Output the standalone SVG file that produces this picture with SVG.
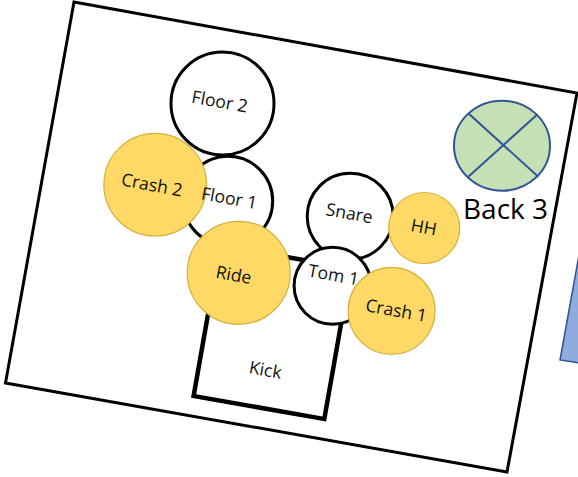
<svg xmlns="http://www.w3.org/2000/svg" width="578" height="477" viewBox="0 0 578 477">
  <style>
    .drum { fill: #ffffff; stroke: #000000; stroke-width: 3; }
    .cym { fill: #FFD966; stroke: #D6AE3A; stroke-width: 1.2; }
    .lbl { font-family: "Open Sans", "Liberation Sans", sans-serif; font-size: 17.6px; fill: #111111; text-anchor: middle; }
  </style>
  <rect width="578" height="477" fill="#ffffff"/>
  <g id="room">
    <polygon points="74,2 577,93 507,472 5.5,383" fill="#ffffff" stroke="#000000" stroke-width="3"/>
  </g>
  <g id="side-shape">
    <polygon points="579,255 560,360 579,363" fill="#8FAADC" stroke="#2F5597" stroke-width="1.5"/>
  </g>
  <g id="floor2">
    <circle class="drum" cx="222.5" cy="103.5" r="51.5"/>
    <text class="lbl" x="219.7" y="107.7" transform="rotate(10.3 219.7 101.7)">Floor 2</text>
  </g>
  <g id="floor1">
    <circle class="drum" cx="228" cy="201" r="44.7"/>
  </g>
  <g id="crash2">
    <circle class="cym" cx="155.2" cy="184.7" r="51.3"/>
    <text class="lbl" x="151.9" y="191" transform="rotate(10.3 151.9 185)">Crash 2</text>
  </g>
  <text class="lbl" x="229.3" y="204.3" transform="rotate(10.3 229.3 198.3)">Floor 1</text>
  <g id="kick">
    <rect x="205.9" y="255.65" width="132.7" height="153" fill="#ffffff" stroke="#000000" stroke-width="4.5" transform="rotate(10 272.25 332.15)"/>
    <text class="lbl" x="265.4" y="376" transform="rotate(10.3 265.4 370)">Kick</text>
  </g>
  <g id="ride">
    <circle class="cym" cx="238.7" cy="272.8" r="51.5"/>
    <text class="lbl" x="233.7" y="281" transform="rotate(10.3 233.7 275)">Ride</text>
  </g>
  <g id="snare">
    <circle class="drum" cx="350.2" cy="216.3" r="43"/>
    <text class="lbl" x="349.4" y="219.3" transform="rotate(10.3 349.4 213.3)">Snare</text>
  </g>
  <g id="tom1">
    <circle class="drum" cx="332.6" cy="285.8" r="38.5"/>
    <text class="lbl" x="333.6" y="281" transform="rotate(10.3 333.6 275)">Tom 1</text>
  </g>
  <g id="hh">
    <circle class="cym" cx="424.2" cy="228" r="35.5"/>
    <text class="lbl" x="423.9" y="233.3" transform="rotate(10.3 423.9 227.3)">HH</text>
  </g>
  <g id="crash1">
    <circle class="cym" cx="391.6" cy="310.8" r="43.5"/>
    <text class="lbl" x="396.2" y="316.7" transform="rotate(10.3 396.2 310.7)">Crash 1</text>
  </g>
  <g id="back3">
    <ellipse cx="502" cy="145.7" rx="48" ry="45" fill="#C5E0B4" stroke="#2F5597" stroke-width="2"/>
    <line x1="468.3" y1="113.3" x2="538.3" y2="176.7" stroke="#2F5597" stroke-width="2"/>
    <line x1="536.7" y1="115" x2="468.3" y2="176.7" stroke="#2F5597" stroke-width="2"/>
    <text x="463" y="219.3" font-family="Open Sans, Liberation Sans, sans-serif" font-size="28" fill="#000000">Back 3</text>
  </g>
</svg>
